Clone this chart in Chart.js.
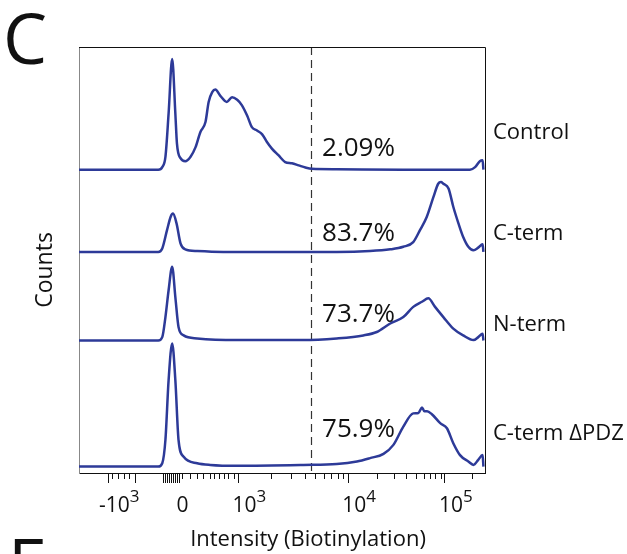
<!DOCTYPE html>
<html>
<head>
<meta charset="utf-8">
<script src="https://cdn.jsdelivr.net/npm/chart.js@4.4.1/dist/chart.umd.min.js"></script>
<style>
  html, body { margin: 0; padding: 0; background: #fff; }
  #wrap { width: 627px; height: 554px; }
</style>
</head>
<body>
<div id="wrap"><canvas id="grafico" width="627" height="554"></canvas></div>
<script>
// eixo x: canais de exibição (0-1024), eixo y: altura relativa (0-100)
const amostras = ["Control", "C-term", "N-term", "C-term ΔPDZ"];
const percentuais = ["2.09%", "83.7%", "73.7%", "75.9%"];

const controlX = [0, 200, 210, 218, 226, 235, 243, 247, 256, 268, 281, 294, 306, 319, 327, 336, 344, 356, 373, 386, 399, 411, 424, 436, 449, 462, 474, 487, 503, 520, 537, 554, 571, 587, 650, 817, 986, 999, 1011, 1018, 1020];
const controlY = [0, 0, 0.6, 3.0, 13.2, 26.0, 13.2, 6.2, 2.7, 2.0, 3.0, 5.3, 8.8, 11.2, 15.9, 18.2, 18.8, 17.4, 15.9, 17.0, 16.4, 15.1, 12.7, 10.0, 9.2, 8.3, 6.5, 4.9, 3.4, 1.8, 1.5, 1.0, 0.5, 0.2, 0.1, 0, 0, 0.6, 2.0, 2.2, 0];

const ctermX = [0, 200, 210, 222, 231, 237, 246, 256, 268, 298, 364, 566, 650, 734, 785, 818, 843, 860, 877, 894, 906, 913, 919, 932, 944, 957, 969, 982, 995, 1007, 1018, 1020];
const ctermY = [0, 0, 0.8, 5.1, 8.2, 9.0, 6.7, 2.0, 0.6, 0.2, 0, 0, 0, 0.2, 0.6, 1.2, 2.3, 5.1, 8.2, 12.9, 16.0, 16.4, 16.0, 14.9, 10.6, 6.7, 3.5, 1.2, 0.4, 1.0, 1.8, 0];

const ntermX = [0, 200, 210, 218, 226, 235, 243, 251, 264, 298, 399, 566, 650, 717, 751, 785, 818, 843, 865, 881, 898, 919, 944, 969, 995, 1007, 1018, 1020];
const ntermY = [0, 0, 0.8, 5.5, 11.8, 17.3, 10.2, 3.2, 1.2, 0.5, 0.1, 0.1, 0.5, 1.2, 2.0, 4.0, 5.5, 7.9, 9.1, 9.9, 7.9, 5.5, 2.8, 1.2, 0.1, 0.8, 1.6, 0];

const deltaX = [0, 200, 210, 218, 226, 235, 243, 251, 264, 298, 331, 399, 566, 650, 701, 734, 768, 793, 818, 843, 856, 865, 871, 878, 890, 911, 928, 944, 961, 982, 995, 1007, 1018, 1020];
const deltaY = [0, 0, 0.8, 6.3, 20.3, 28.9, 20.3, 6.3, 2.3, 0.8, 0.4, 0.2, 0.4, 0.6, 1.2, 2.0, 3.0, 5.1, 9.4, 12.5, 12.6, 13.9, 13.0, 13.0, 12.3, 10.2, 9.0, 5.5, 2.7, 1.2, 0.4, 1.6, 2.7, 0];

// ticks do eixo x (biexponencial)
const ticksMaiores = [74, 233, 402, 679, 923];
const ticksBase = ["-10", "0", "10", "10", "10"];
const ticksExpoente = ["3", "", "3", "4", "5"];
const ticksLongos = [142, 213, 218, 222, 226, 228, 231, 236, 238, 241, 246, 251];
const ticksMenores = [84, 99, 113, 125, 260, 281, 298, 314, 331, 340, 352, 365, 377, 390, 485, 534, 569, 596, 618, 636, 652, 666, 752, 795, 826, 850, 869, 885, 899, 912, 991];

const gateX = 585;

// layout
const deslocamentos = [71.2, 51.9, 31.1, 1.5];
const posPercentual = { x: 613, y: [74.4, 54.5, 35.5, 8.5] };
const posRotulo = [78.3, 54.7, 33.3, 7.7];

const COR = "#2d3a98";
const FONTE = "'Open Sans', sans-serif";

const series = [
  [controlX, controlY],
  [ctermX, ctermY],
  [ntermX, ntermY],
  [deltaX, deltaY]
];

const datasets = series.map(([xs, ys], i) => ({
  label: amostras[i],
  data: xs.map((v, j) => ({ x: v, y: deslocamentos[i] + ys[j] })),
  borderColor: COR,
  borderWidth: 2.5,
  pointRadius: 0,
  fill: false,
  cubicInterpolationMode: "monotone"
}));

//  desenhos extras (gate, textos, ticks menores)
const desenhos = {
  id: "desenhos",
  beforeDatasetsDraw(chart) {
    const { ctx, chartArea: a, scales: { x } } = chart;
    const gx = Math.round(x.getPixelForValue(gateX)) + 0.5;
    ctx.save();
    ctx.strokeStyle = "#333";
    ctx.lineWidth = 1.2;
    ctx.setLineDash([8, 5]);
    ctx.beginPath();
    ctx.moveTo(gx, a.top);
    ctx.lineTo(gx, a.bottom);
    ctx.stroke();
    ctx.restore();
  },
  afterDraw(chart) {
    const { ctx, chartArea: a, scales: { x, y } } = chart;
    ctx.save();

    // borda de cima e da direita
    ctx.strokeStyle = "#111";
    ctx.lineWidth = 1;
    ctx.beginPath();
    ctx.moveTo(a.left, a.top + 0.5);
    ctx.lineTo(a.right + 0.5, a.top + 0.5);
    ctx.lineTo(a.right + 0.5, a.bottom);
    ctx.stroke();

    // ticks menores e longos
    ctx.beginPath();
    ticksMenores.forEach(v => {
      const px = Math.round(x.getPixelForValue(v)) + 0.5;
      ctx.moveTo(px, a.bottom);
      ctx.lineTo(px, a.bottom + 6);
    });
    ticksLongos.forEach(v => {
      const px = Math.round(x.getPixelForValue(v)) + 0.5;
      ctx.moveTo(px, a.bottom);
      ctx.lineTo(px, a.bottom + 10);
    });
    ctx.stroke();

    ctx.fillStyle = "#111";
    ctx.textBaseline = "alphabetic";

    // rótulos dos ticks com expoente
    ticksMaiores.forEach((v, i) => {
      const cx = x.getPixelForValue(v) + 11;
      ctx.font = `21px ${FONTE}`;
      const wb = ctx.measureText(ticksBase[i]).width;
      ctx.font = `17px ${FONTE}`;
      const we = ticksExpoente[i] ? ctx.measureText(ticksExpoente[i]).width : 0;
      const x0 = cx - (wb + we) / 2;
      ctx.font = `21px ${FONTE}`;
      ctx.textAlign = "left";
      ctx.fillText(ticksBase[i], x0, a.bottom + 39);
      if (we) {
        ctx.font = `17px ${FONTE}`;
        ctx.fillText(ticksExpoente[i], x0 + wb, a.bottom + 29);
      }
    });

    // percentuais
    ctx.font = `26px ${FONTE}`;
    ctx.textAlign = "left";
    percentuais.forEach((t, i) => {
      ctx.fillText(t, x.getPixelForValue(posPercentual.x), y.getPixelForValue(posPercentual.y[i]));
    });

    // nomes das amostras
    ctx.font = `22px ${FONTE}`;
    amostras.forEach((t, i) => {
      ctx.fillText(t, a.right + 8, y.getPixelForValue(posRotulo[i]));
    });

    // títulos dos eixos
    ctx.font = `22px ${FONTE}`;
    ctx.textAlign = "center";
    ctx.fillText("Intensity (Biotinylation)", 308, 546);

    ctx.save();
    ctx.translate(52, 270);
    ctx.rotate(-Math.PI / 2);
    ctx.font = `23px ${FONTE}`;
    ctx.fillText("Counts", 0, 0);
    ctx.restore();

    // letras dos painéis
    ctx.font = `70px ${FONTE}`;
    ctx.textAlign = "left";
    ctx.fillText("C", 3, 64);
    ctx.fillText("E", 8, 589);

    ctx.restore();
  }
};

new Chart(document.getElementById("grafico"), {
  type: "line",
  data: { datasets: datasets },
  options: {
    responsive: false,
    animation: false,
    devicePixelRatio: 1,
    layout: { padding: { top: 47, right: 142, left: 0, bottom: 0 } },
    plugins: {
      legend: { display: false },
      tooltip: { enabled: false }
    },
    scales: {
      x: {
        type: "linear",
        min: 0,
        max: 1024,
        afterBuildTicks: s => { s.ticks = ticksMaiores.map(v => ({ value: v })); },
        afterFit: s => { s.height = 81; },
        ticks: { display: false },
        grid: { drawOnChartArea: false, drawTicks: true, tickLength: 10, color: "#111", lineWidth: 1 },
        border: { display: true, color: "#111", width: 1 }
      },
      y: {
        min: 0,
        max: 100,
        afterFit: s => { s.width = 79; },
        ticks: { display: false },
        grid: { display: false },
        border: { display: true, color: "#888", width: 1 }
      }
    }
  },
  plugins: [desenhos]
});
</script>
</body>
</html>
